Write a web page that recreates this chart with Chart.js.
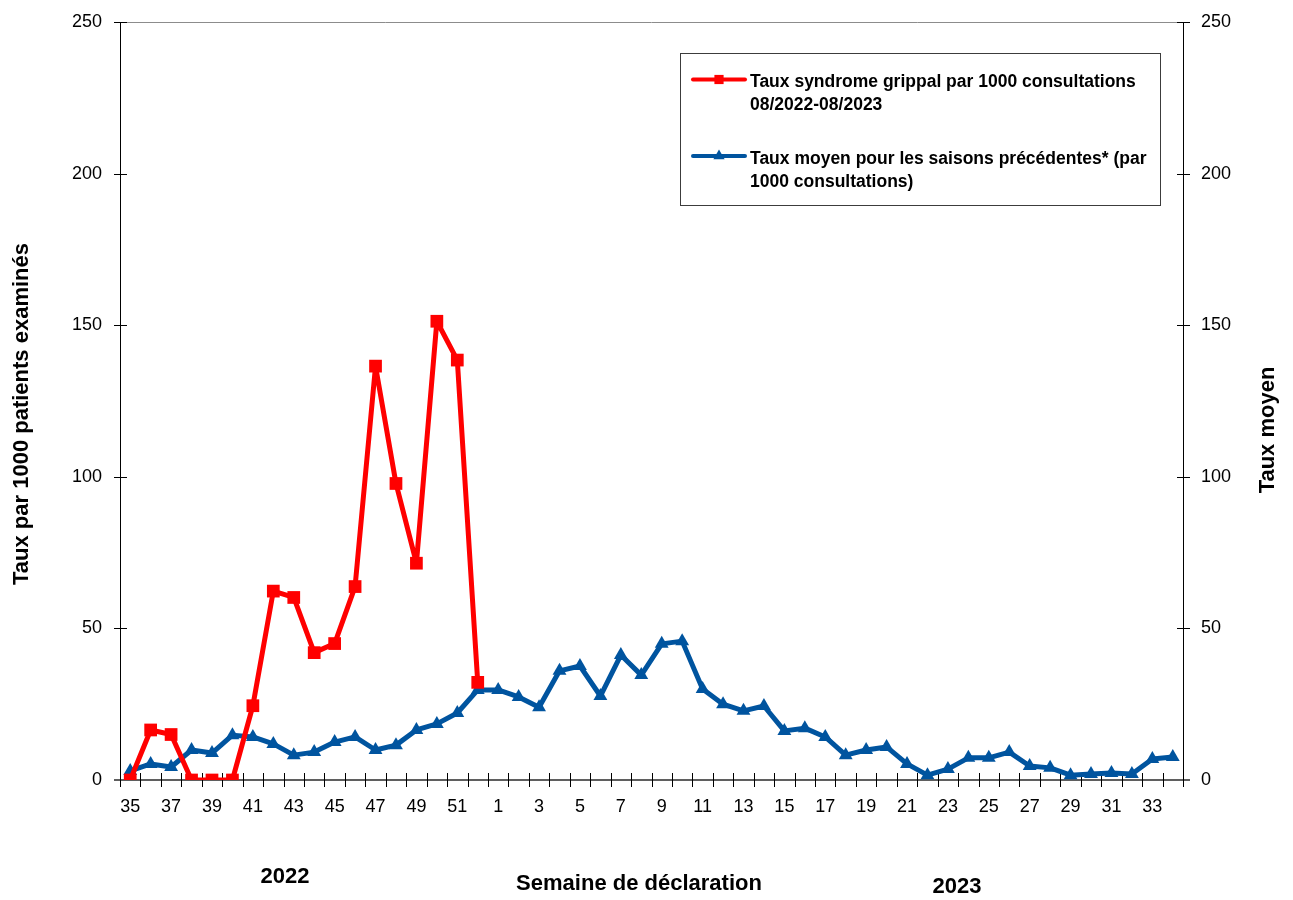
<!DOCTYPE html>
<html lang="fr">
<head>
<meta charset="utf-8">
<title>Syndrome grippal 2022-2023</title>
<script src="https://cdn.jsdelivr.net/npm/chart.js@4/dist/chart.umd.min.js"></script>
<style>
  html, body { margin: 0; padding: 0; background: #ffffff; }
  #wrap { position: relative; width: 1293px; height: 900px; }
  canvas { display: block; }
</style>
</head>
<body>
<div id="wrap"><canvas id="chart" width="1293" height="900"></canvas></div>
<script>
// Semaines de déclaration (35/2022 à 34/2023)
const weeks = ['35','36','37','38','39','40','41','42','43','44','45','46','47','48','49','50','51','52',
  '1','2','3','4','5','6','7','8','9','10','11','12','13','14','15','16','17',
  '18','19','20','21','22','23','24','25','26','27','28','29','30','31','32','33','34'];

// Taux syndrome grippal par 1000 consultations, saison 2022-2023
const tauxSaison = [0, 16.5, 15, 0, 0, 0, 24.5, 62.3, 60.2, 42, 45, 63.8, 136.5, 97.8, 71.5, 151.3, 138.5, 32.2,
  null, null, null, null, null, null, null, null, null, null, null, null, null, null, null, null, null,
  null, null, null, null, null, null, null, null, null, null, null, null, null, null, null, null, null];

// Taux moyen des saisons précédentes
const tauxMoyen = [3, 5.3, 4.3, 9.9, 8.9, 14.8, 14.2, 11.9, 8.2, 9.2, 12.5, 14.2, 9.9, 11.5, 16.5, 18.5, 22.1, 29.7,
  29.7, 27.4, 24, 36, 37.6, 27.7, 41.2, 34.6, 44.9, 45.8, 30, 25, 22.8, 24.4, 16.2, 17.1, 14.2,
  8.2, 9.9, 10.9, 5.3, 1.6, 3.6, 7.3, 7.3, 9.2, 4.6, 4, 1.6, 2, 2.3, 2, 6.9, 7.6];

const yTicks = [0, 50, 100, 150, 200, 250];

const seriesNames = [
  ['Taux syndrome grippal par 1000 consultations', '08/2022-08/2023'],
  ['Taux moyen pour les saisons précédentes* (par', '1000 consultations)']
];

const RED = '#ff0000';
const BLUE = '#00549f';
const FONT = '"Liberation Sans", Arial, Helvetica, sans-serif';

// Axes drawn by hand: ticks crossing the axis lines, grey frame top and x axis
const axesPlugin = {
  id: 'axesPlugin',
  beforeDatasetsDraw(chart) {
    const { ctx, chartArea: a, scales } = chart;
    const L = Math.round(a.left), R = Math.round(a.right), T = Math.round(a.top), B = Math.round(a.bottom);
    ctx.save();
    // top frame line
    ctx.strokeStyle = '#8c8c8c';
    ctx.lineWidth = 1;
    ctx.beginPath();
    ctx.moveTo(L, T + 0.5); ctx.lineTo(R, T + 0.5);
    ctx.stroke();
    // vertical axes
    ctx.strokeStyle = '#000000';
    ctx.beginPath();
    ctx.moveTo(L + 0.5, T); ctx.lineTo(L + 0.5, B);
    ctx.moveTo(R + 0.5, T); ctx.lineTo(R + 0.5, B);
    yTicks.forEach(v => {
      const yl = Math.round(scales.y.getPixelForValue(v)) + 0.5;
      ctx.moveTo(L - 6, yl); ctx.lineTo(L + 7, yl);
      const yr = Math.round(scales.y2.getPixelForValue(v)) + 0.5;
      ctx.moveTo(R - 6, yr); ctx.lineTo(R + 7, yr);
    });
    ctx.stroke();
    // x axis line
    ctx.strokeStyle = '#5f5f5f';
    ctx.lineWidth = 2;
    ctx.beginPath();
    ctx.moveTo(L - 6, B); ctx.lineTo(R + 7, B);
    ctx.stroke();
    // x tick marks at week boundaries
    ctx.strokeStyle = '#000000';
    ctx.lineWidth = 1;
    ctx.beginPath();
    const xs = scales.x;
    const n = weeks.length;
    for (let i = 0; i <= n; i++) {
      let px;
      if (i === 0) px = L;
      else if (i === n) px = R;
      else px = (xs.getPixelForValue(i - 1) + xs.getPixelForValue(i)) / 2;
      px = Math.round(px) + 0.5;
      ctx.moveTo(px, B - 7); ctx.lineTo(px, B + 7);
    }
    ctx.stroke();
    ctx.restore();
  }
};

// Axis titles, year labels and the boxed legend
const textPlugin = {
  id: 'textPlugin',
  afterDraw(chart) {
    const { ctx } = chart;
    ctx.save();
    ctx.fillStyle = '#000000';
    ctx.font = 'bold 22px ' + FONT;
    ctx.textAlign = 'center';
    ctx.textBaseline = 'middle';
    ctx.fillText('Semaine de déclaration', 639, 884);
    ctx.fillText('2022', 285, 877);
    ctx.fillText('2023', 957, 887);

    ctx.save();
    ctx.translate(22, 414);
    ctx.rotate(-Math.PI / 2);
    ctx.fillText('Taux par 1000 patients examinés', 0, 0);
    ctx.restore();

    ctx.save();
    ctx.translate(1268, 430);
    ctx.rotate(-Math.PI / 2);
    ctx.fillText('Taux moyen', 0, 0);
    ctx.restore();

    // legend box
    ctx.strokeStyle = '#3c3c3c';
    ctx.lineWidth = 1;
    ctx.strokeRect(680.5, 53.5, 480, 152);

    const entries = [
      { ds: chart.data.datasets[0], y: 79.5, lines: seriesNames[0], base: 86.5 },
      { ds: chart.data.datasets[1], y: 156, lines: seriesNames[1], base: 163.5 }
    ];
    entries.forEach(e => {
      ctx.strokeStyle = e.ds.borderColor;
      ctx.lineWidth = 4;
      ctx.lineCap = 'round';
      ctx.beginPath();
      ctx.moveTo(693, e.y); ctx.lineTo(745, e.y);
      ctx.stroke();
      ctx.fillStyle = e.ds.borderColor;
      Chart.helpers.drawPoint(ctx, {
        pointStyle: e.ds.pointStyle, radius: 6.5, rotation: 0, borderWidth: 0
      }, 719, e.y);
      ctx.fillStyle = '#000000';
      ctx.font = 'bold 17.5px ' + FONT;
      ctx.textAlign = 'left';
      ctx.textBaseline = 'alphabetic';
      e.lines.forEach((t, k) => ctx.fillText(t, 750, e.base + k * 23.5));
    });
    ctx.restore();
  }
};

const fitVertical = w => s => { s.width = w; s.paddingTop = 0; s.paddingBottom = 0; };

new Chart(document.getElementById('chart'), {
  type: 'line',
  data: {
    labels: weeks,
    datasets: [
      {
        label: seriesNames[0].join(' '),
        data: tauxSaison,
        yAxisID: 'y',
        borderColor: RED,
        backgroundColor: RED,
        borderWidth: 5,
        borderJoinStyle: 'round',
        borderCapStyle: 'round',
        pointStyle: 'rect',
        pointRadius: 9,
        pointBorderWidth: 0,
        tension: 0,
        spanGaps: false,
        order: 1
      },
      {
        label: seriesNames[1].join(' '),
        data: tauxMoyen,
        yAxisID: 'y2',
        borderColor: BLUE,
        backgroundColor: BLUE,
        borderWidth: 5,
        borderJoinStyle: 'round',
        borderCapStyle: 'round',
        pointStyle: 'triangle',
        pointRadius: 8,
        pointBorderWidth: 0,
        tension: 0,
        order: 2
      }
    ]
  },
  options: {
    responsive: false,
    animation: false,
    layout: { padding: { top: 22, left: 0, right: 0, bottom: 0 } },
    plugins: {
      legend: { display: false },
      tooltip: { enabled: false }
    },
    scales: {
      x: {
        type: 'category',
        offset: true,
        grid: { display: false, drawTicks: false },
        border: { display: false },
        ticks: {
          autoSkip: false,
          maxRotation: 0,
          padding: 16,
          color: '#000000',
          font: { family: FONT, size: 18 },
          callback: (v, i) => (i % 2 === 0 ? weeks[i] : '')
        },
        afterFit: s => { s.height = 120; s.paddingLeft = 0; s.paddingRight = 0; }
      },
      y: {
        position: 'left',
        min: 0,
        max: 250,
        afterBuildTicks: s => { s.ticks = yTicks.map(v => ({ value: v })); },
        grid: { display: false, drawTicks: false },
        border: { display: false },
        ticks: {
          padding: 18,
          color: '#000000',
          font: { family: FONT, size: 18 }
        },
        afterFit: fitVertical(120)
      },
      y2: {
        position: 'right',
        min: 0,
        max: 250,
        afterBuildTicks: s => { s.ticks = yTicks.map(v => ({ value: v })); },
        grid: { display: false, drawTicks: false },
        border: { display: false },
        ticks: {
          padding: 18,
          color: '#000000',
          font: { family: FONT, size: 18 }
        },
        afterFit: fitVertical(110)
      }
    }
  },
  plugins: [axesPlugin, textPlugin]
});
</script>
</body>
</html>
